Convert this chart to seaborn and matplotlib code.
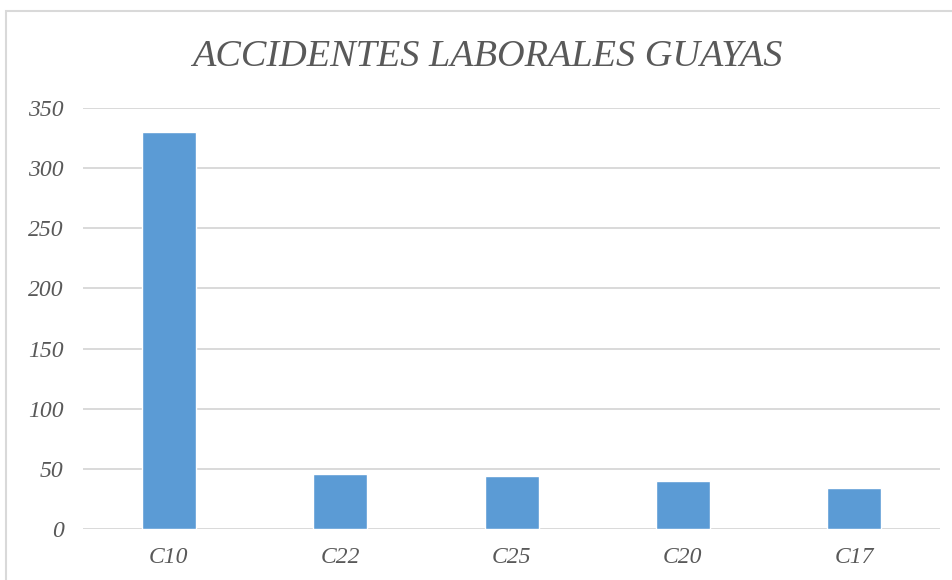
import pandas as pd
import matplotlib
matplotlib.use('Agg')
import matplotlib.pyplot as plt
import seaborn as sns
from matplotlib.patches import Rectangle

# values
categorias = ['C10', 'C22', 'C25', 'C20', 'C17']
accidentes = [330, 46, 44, 40, 34]
y_ticks = [0, 50, 100, 150, 200, 250, 300, 350]

df = pd.DataFrame({'categoria': categorias, 'accidentes': accidentes})

sns.set_theme(style='white')
plt.rcParams['font.family'] = ['Liberation Serif', 'DejaVu Serif']

fig = plt.figure(figsize=(9.53, 5.8), dpi=100)
ax = fig.add_axes([0.0871, 0.0879, 0.8993, 0.7259])

sns.barplot(data=df, x='categoria', y='accidentes', color='#5B9BD5',
            saturation=1, width=0.315, ax=ax, zorder=3)

ax.set_ylim(0, 350)
ax.set_yticks(y_ticks)
ax.set_xlim(-0.5, len(categorias) - 0.5)
ax.yaxis.grid(True, color='#D9D9D9', linewidth=1.4, zorder=0)
ax.xaxis.grid(False)
for s in ax.spines.values():
    s.set_visible(False)

ax.set_xlabel('')
ax.set_ylabel('')
ax.tick_params(axis='both', length=0, labelcolor='#595959')
ax.tick_params(axis='y', pad=14, labelsize=17)
ax.tick_params(axis='x', pad=13, labelsize=17)
for lab in ax.get_xticklabels() + ax.get_yticklabels():
    lab.set_fontstyle('italic')

fig.text(0.511, 0.903, 'ACCIDENTES LABORALES GUAYAS', ha='center', va='center',
         fontsize=27.5, fontstyle='italic', color='#595959')

# chart area border
fig.patches.append(Rectangle((0.006, -0.05), 1.1, 1.031, transform=fig.transFigure,
                             fill=False, edgecolor='#D9D9D9', linewidth=1.5))

fig.savefig('out.png', dpi=100)
